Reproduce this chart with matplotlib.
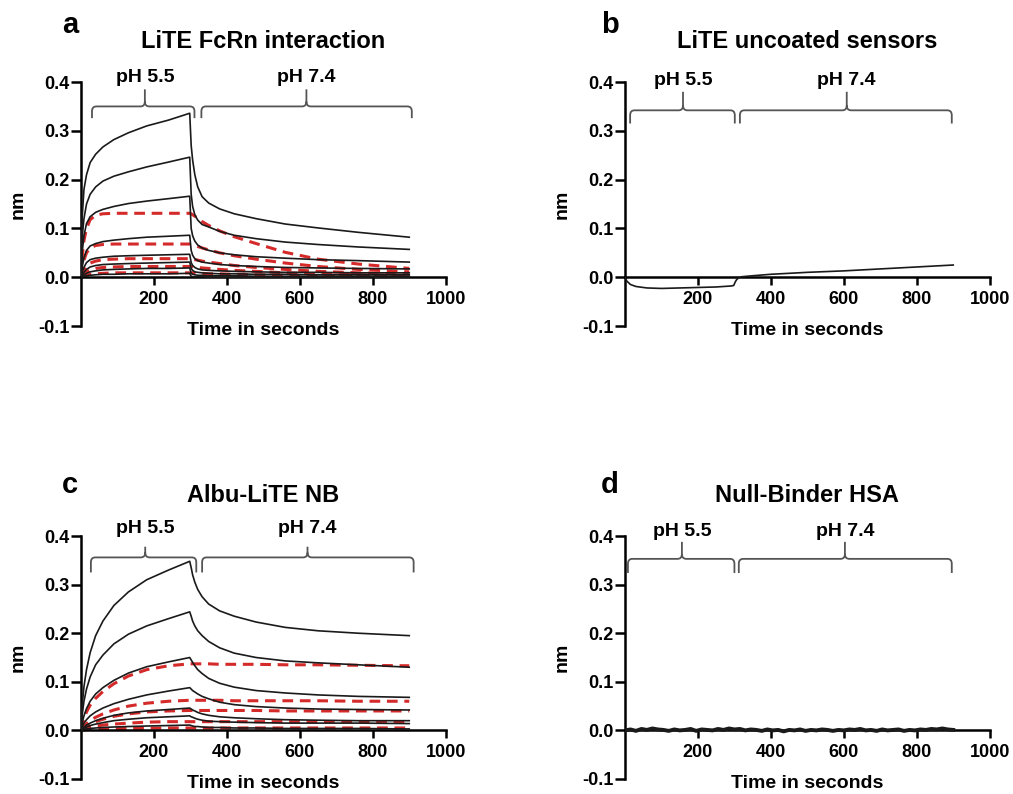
import numpy as np
import matplotlib
matplotlib.use("Agg")
import matplotlib.pyplot as plt
from matplotlib.path import Path
from matplotlib.patches import PathPatch

plt.rcParams['font.family'] = ['Liberation Sans', 'DejaVu Sans']
plt.rcParams['font.weight'] = 'bold'

# ---------------- data ----------------
T_ASSOC = [0, 3, 8, 15, 25, 40, 60, 90, 130, 180, 240, 298]
T_DISS = [302, 306, 312, 320, 332, 350, 380, 420, 480, 560, 650, 760, 900]

# Panel a: LiTE FcRn interaction (measured, black)
A_ASSOC = [
    [0, 0.12, 0.18, 0.21, 0.235, 0.252, 0.267, 0.282, 0.296, 0.310, 0.322, 0.336],
    [0, 0.08, 0.12, 0.15, 0.170, 0.185, 0.197, 0.207, 0.216, 0.226, 0.236, 0.246],
    [0, 0.05, 0.085, 0.11, 0.124, 0.133, 0.139, 0.145, 0.151, 0.156, 0.161, 0.166],
    [0, 0.02, 0.04, 0.055, 0.064, 0.069, 0.073, 0.076, 0.079, 0.082, 0.084, 0.086],
    [0, 0.01, 0.02, 0.03, 0.036, 0.039, 0.041, 0.043, 0.044, 0.045, 0.046, 0.047],
    [0, 0.005, 0.01, 0.016, 0.021, 0.024, 0.026, 0.027, 0.028, 0.029, 0.030, 0.031],
    [0, 0.002, 0.005, 0.008, 0.011, 0.013, 0.015, 0.016, 0.017, 0.018, 0.018, 0.019],
    [0, 0.001, 0.002, 0.003, 0.004, 0.005, 0.006, 0.006, 0.007, 0.007, 0.007, 0.008],
]
A_DISS = [
    [0.27, 0.24, 0.21, 0.185, 0.165, 0.152, 0.140, 0.130, 0.120, 0.109, 0.101, 0.092, 0.082],
    [0.17, 0.145, 0.128, 0.117, 0.108, 0.103, 0.094, 0.086, 0.079, 0.072, 0.067, 0.062, 0.057],
    [0.10, 0.085, 0.074, 0.066, 0.060, 0.055, 0.050, 0.046, 0.042, 0.039, 0.036, 0.034, 0.031],
    [0.055, 0.045, 0.038, 0.034, 0.031, 0.029, 0.026, 0.024, 0.022, 0.020, 0.019, 0.018, 0.017],
    [0.030, 0.024, 0.020, 0.017, 0.015, 0.014, 0.013, 0.012, 0.011, 0.010, 0.010, 0.009, 0.009],
    [0.018, 0.014, 0.011, 0.010, 0.009, 0.008, 0.007, 0.007, 0.006, 0.006, 0.005, 0.005, 0.005],
    [0.008, 0.006, 0.005, 0.004, 0.004, 0.003, 0.003, 0.003, 0.002, 0.002, 0.002, 0.002, 0.002],
    [0.002, 0.001, 0.001, 0.001, 0.001, 0.0, 0.0, 0.0, 0.0, 0.0, 0.0, 0.0, 0.0],
]
# Panel a fits (red dashed)
A_FIT_ASSOC = [
    [0, 0.04, 0.075, 0.10, 0.118, 0.127, 0.130, 0.131, 0.131, 0.131, 0.131, 0.131],
    [0, 0.015, 0.035, 0.05, 0.060, 0.065, 0.067, 0.068, 0.068, 0.068, 0.068, 0.068],
    [0, 0.006, 0.014, 0.022, 0.029, 0.033, 0.036, 0.037, 0.038, 0.038, 0.038, 0.038],
    [0, 0.003, 0.007, 0.011, 0.015, 0.018, 0.020, 0.021, 0.022, 0.022, 0.022, 0.022],
    [0, 0.001, 0.002, 0.004, 0.006, 0.007, 0.008, 0.009, 0.009, 0.009, 0.009, 0.009],
]
A_FIT_DISS = [
    [0.130, 0.128, 0.125, 0.121, 0.114, 0.106, 0.095, 0.083, 0.069, 0.051, 0.037, 0.027, 0.018],
    [0.068, 0.067, 0.065, 0.063, 0.060, 0.056, 0.050, 0.044, 0.037, 0.029, 0.022, 0.016, 0.011],
    [0.038, 0.037, 0.036, 0.035, 0.033, 0.031, 0.028, 0.024, 0.020, 0.016, 0.012, 0.009, 0.006],
    [0.022, 0.022, 0.021, 0.020, 0.019, 0.018, 0.016, 0.014, 0.012, 0.009, 0.007, 0.005, 0.004],
    [0.009, 0.009, 0.009, 0.008, 0.008, 0.007, 0.007, 0.006, 0.005, 0.004, 0.003, 0.002, 0.002],
]

# Panel b: LiTE uncoated sensors
B_TIME = [0, 5, 15, 30, 60, 100, 150, 200, 250, 290, 298, 302, 306, 312, 320, 350, 400, 500, 600, 700, 800, 900]
B_VALS = [0, -0.008, -0.015, -0.019, -0.022, -0.023, -0.022, -0.021, -0.020, -0.018, -0.017,
          -0.010, -0.005, -0.001, 0.001, 0.003, 0.006, 0.010, 0.013, 0.017, 0.021, 0.025]

# Panel c: Albu-LiTE NB (measured, black)
C_ASSOC = [
    [0, 0.05, 0.09, 0.125, 0.160, 0.195, 0.225, 0.257, 0.285, 0.310, 0.330, 0.348],
    [0, 0.03, 0.06, 0.085, 0.110, 0.135, 0.155, 0.178, 0.198, 0.215, 0.230, 0.244],
    [0, 0.015, 0.03, 0.045, 0.060, 0.075, 0.088, 0.103, 0.118, 0.131, 0.141, 0.150],
    [0, 0.007, 0.015, 0.022, 0.030, 0.038, 0.046, 0.055, 0.064, 0.073, 0.081, 0.088],
    [0, 0.003, 0.007, 0.011, 0.015, 0.020, 0.025, 0.031, 0.036, 0.040, 0.043, 0.046],
    [0, 0.002, 0.004, 0.007, 0.010, 0.013, 0.016, 0.020, 0.023, 0.026, 0.028, 0.030],
    [0, 0.001, 0.002, 0.003, 0.004, 0.005, 0.006, 0.007, 0.008, 0.009, 0.010, 0.011],
]
C_DISS = [
    [0.335, 0.320, 0.305, 0.290, 0.275, 0.260, 0.246, 0.235, 0.223, 0.212, 0.205, 0.200, 0.195],
    [0.235, 0.225, 0.215, 0.205, 0.195, 0.183, 0.170, 0.159, 0.150, 0.143, 0.139, 0.135, 0.130],
    [0.145, 0.140, 0.133, 0.125, 0.117, 0.107, 0.097, 0.089, 0.082, 0.077, 0.073, 0.070, 0.068],
    [0.085, 0.082, 0.079, 0.075, 0.070, 0.065, 0.058, 0.053, 0.049, 0.046, 0.044, 0.043, 0.042],
    [0.044, 0.042, 0.040, 0.037, 0.034, 0.031, 0.028, 0.026, 0.024, 0.022, 0.021, 0.020, 0.020],
    [0.028, 0.027, 0.025, 0.023, 0.021, 0.019, 0.018, 0.017, 0.016, 0.015, 0.015, 0.015, 0.014],
    [0.010, 0.009, 0.008, 0.008, 0.007, 0.006, 0.006, 0.005, 0.005, 0.004, 0.004, 0.004, 0.003],
]
C_FIT_ASSOC = [
    [0, 0.012, 0.025, 0.038, 0.052, 0.066, 0.080, 0.096, 0.112, 0.125, 0.133, 0.137],
    [0, 0.004, 0.009, 0.014, 0.020, 0.027, 0.034, 0.042, 0.050, 0.056, 0.060, 0.062],
    [0, 0.003, 0.006, 0.009, 0.013, 0.018, 0.023, 0.029, 0.034, 0.038, 0.040, 0.041],
    [0, 0.001, 0.003, 0.005, 0.007, 0.009, 0.011, 0.013, 0.015, 0.017, 0.018, 0.018],
    [0, 0.0005, 0.001, 0.0015, 0.002, 0.0025, 0.003, 0.0035, 0.004, 0.0045, 0.005, 0.005],
]
C_FIT_DISS = [
    [0.137, 0.137, 0.137, 0.137, 0.137, 0.137, 0.136, 0.136, 0.136, 0.135, 0.135, 0.134, 0.133],
    [0.062, 0.062, 0.062, 0.062, 0.062, 0.062, 0.062, 0.061, 0.061, 0.061, 0.061, 0.060, 0.060],
    [0.041, 0.041, 0.041, 0.041, 0.041, 0.041, 0.041, 0.041, 0.041, 0.040, 0.040, 0.040, 0.040],
    [0.018, 0.018, 0.018, 0.018, 0.018, 0.018, 0.018, 0.018, 0.018, 0.018, 0.018, 0.018, 0.018],
    [0.005, 0.005, 0.005, 0.005, 0.005, 0.005, 0.005, 0.005, 0.005, 0.005, 0.005, 0.005, 0.005],
]

# Panel d: Null-Binder HSA (flat noisy trace)
D_VALS = [0.000, 0.002, -0.001, 0.003, 0.001, 0.004, 0.002, 0.001, -0.001, 0.002,
          0.000, 0.001, 0.003, -0.001, 0.002, 0.001, 0.000, 0.003, 0.001, 0.004,
          0.002, 0.003, 0.000, 0.002, 0.001, -0.001, 0.002, 0.000, 0.001, -0.002,
          0.001, 0.000, 0.002, -0.001, 0.001, 0.000, 0.002, 0.001, -0.001, 0.001,
          0.000, 0.002, 0.001, 0.003, 0.000, 0.001, -0.001, 0.002, 0.000, 0.001,
          0.002, -0.001, 0.001, 0.000, 0.002, 0.001, 0.003, 0.002, 0.004, 0.002, 0.001]
D_TIME = list(np.linspace(0, 900, len(D_VALS)))

TITLES = ['LiTE FcRn interaction', 'LiTE uncoated sensors', 'Albu-LiTE NB', 'Null-Binder HSA']
LETTERS = ['a', 'b', 'c', 'd']
PH_LABELS = ['pH 5.5', 'pH 7.4']
XTICKS = [200, 400, 600, 800, 1000]
YTICKS = [-0.1, 0.0, 0.1, 0.2, 0.3, 0.4]

# bracket geometry per panel: (start, end, middle) in seconds for each phase
BRACKETS = [
    [(30, 311, 175), (330, 907, 618)],
    [(14, 301, 159), (315, 896, 608)],
    [(27, 316, 176), (332, 912, 621)],
    [(8, 300, 156), (312, 896, 603)],
]
# (end y, bar y, tip y, label y)
BRACKET_Y = [
    (0.326, 0.350, 0.385, 0.410),
    (0.315, 0.342, 0.380, 0.404),
    (0.325, 0.356, 0.378, 0.416),
    (0.324, 0.353, 0.388, 0.410),
]

BLACK = '#1a1a1a'
RED = '#d42a2a'
GREY = '#555555'


def draw_bracket(ax, x0, x1, xm, y_end, y_h, y_top, rx=12, ry=0.010):
    verts = [(x0, y_end), (x0, y_h - ry), (x0, y_h), (x0 + rx, y_h),
             (xm - rx, y_h), (xm, y_h), (xm, y_h + ry), (xm, y_top),
             (x1, y_end), (x1, y_h - ry), (x1, y_h), (x1 - rx, y_h),
             (xm + rx, y_h), (xm, y_h), (xm, y_h + ry)]
    codes = [Path.MOVETO, Path.LINETO, Path.CURVE3, Path.CURVE3,
             Path.LINETO, Path.CURVE3, Path.CURVE3, Path.LINETO,
             Path.MOVETO, Path.LINETO, Path.CURVE3, Path.CURVE3,
             Path.LINETO, Path.CURVE3, Path.CURVE3]
    patch = PathPatch(Path(verts, codes), fill=False, edgecolor=GREY, lw=1.3,
                      clip_on=False, transform=ax.transData)
    ax.add_patch(patch)


def style(ax, idx):
    ax.set_xlim(0, 1000)
    ax.set_ylim(-0.1, 0.4)
    ax.spines['top'].set_visible(False)
    ax.spines['right'].set_visible(False)
    ax.spines['bottom'].set_position(('data', 0))
    ax.spines['left'].set_linewidth(1.8)
    ax.spines['bottom'].set_linewidth(1.8)
    ax.set_xticks(XTICKS)
    ax.set_xticklabels([str(v) for v in XTICKS])
    ax.set_yticks(YTICKS)
    ax.set_yticklabels([f'{v:.1f}' for v in YTICKS])
    ax.tick_params(axis='x', length=6, width=1.8, pad=4, labelsize=13)
    ax.tick_params(axis='y', length=7, width=1.8, pad=1.5, labelsize=13)
    ax.text(0.5, 1.165, TITLES[idx], transform=ax.transAxes, ha='center', va='center',
            fontsize=17, fontweight='bold')
    ax.text(-0.172, 0.5, 'nm', transform=ax.transAxes, ha='center', va='center',
            rotation=90, fontsize=14, fontweight='bold')
    ax.text(0.5, -0.018, 'Time in seconds', transform=ax.transAxes, ha='center',
            va='center', fontsize=14, fontweight='bold')
    ye, yh, yt, yl = BRACKET_Y[idx]
    for (x0, x1, xm), lab in zip(BRACKETS[idx], PH_LABELS):
        draw_bracket(ax, x0, x1, xm, ye, yh, yt)
        ax.text(xm, yl, lab, ha='center', va='center', fontsize=14,
                fontweight='bold', clip_on=False)


fig = plt.figure(figsize=(10.13, 7.94), dpi=100)
positions = [
    [0.080, 0.5894, 0.360, 0.3073],
    [0.617, 0.5894, 0.360, 0.3073],
    [0.080, 0.0189, 0.360, 0.3060],
    [0.617, 0.0189, 0.360, 0.3060],
]
axes = [fig.add_axes(p) for p in positions]

T_ALL = T_ASSOC + T_DISS

ax = axes[0]
for fa, fd in zip(A_FIT_ASSOC, A_FIT_DISS):
    ax.plot(T_ALL, fa + fd, color=RED, lw=2.2, dashes=(3.5, 2.2), zorder=2)
for a, d in zip(A_ASSOC, A_DISS):
    ax.plot(T_ALL, a + d, color=BLACK, lw=1.2, zorder=3)

ax = axes[1]
ax.plot(B_TIME, B_VALS, color=BLACK, lw=1.2, zorder=3)

ax = axes[2]
for fa, fd in zip(C_FIT_ASSOC, C_FIT_DISS):
    ax.plot(T_ALL, fa + fd, color=RED, lw=2.2, dashes=(3.5, 2.2), zorder=2)
for a, d in zip(C_ASSOC, C_DISS):
    ax.plot(T_ALL, a + d, color=BLACK, lw=1.2, zorder=3)

ax = axes[3]
ax.plot(D_TIME, D_VALS, color=BLACK, lw=2.8, zorder=3)

for i, ax in enumerate(axes):
    style(ax, i)

letter_pos = [(70, 25), (610, 25), (70, 485), (610, 485)]
for (px, py), L in zip(letter_pos, LETTERS):
    fig.text(px / 1013, 1 - py / 794, L, ha='center', va='center', fontsize=21,
             fontweight='bold')

fig.savefig('out.png', dpi=100)
